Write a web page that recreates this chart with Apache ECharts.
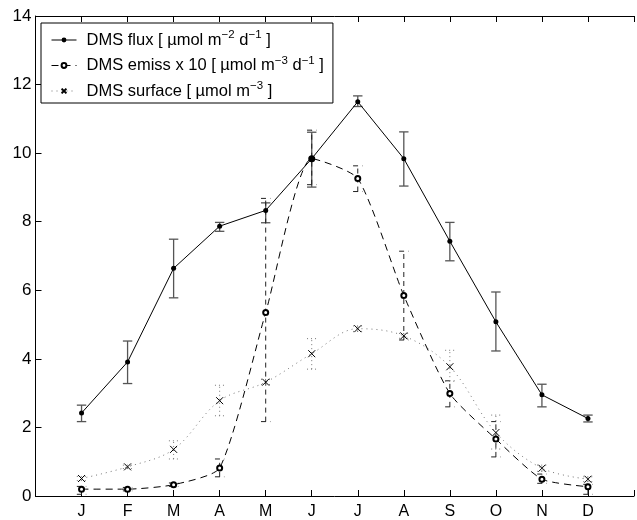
<!DOCTYPE html>
<html>
<head>
<meta charset="utf-8">
<script src="https://cdn.jsdelivr.net/npm/echarts@6/dist/echarts.min.js"></script>
<style>html,body{margin:0;padding:0;background:#fff}#c{width:637px;height:520px}</style>
</head>
<body>
<div id="c"></div>
<script>
const months = ['J','F','M','A','M','J','J','A','S','O','N','D'];
const yTicks = [0, 2, 4, 6, 8, 10, 12, 14];

const flux     = [2.42, 3.91, 6.64, 7.87, 8.33, 9.84, 11.50, 9.84, 7.43, 5.08, 2.95, 2.26];
const fluxLow  = [2.17, 3.28, 5.78, 7.72, 7.97, 9.01, 11.36, 9.04, 6.86, 4.23, 2.60, 2.16];
const fluxHigh = [2.65, 4.52, 7.49, 7.98, 8.55, 10.61, 11.67, 10.62, 7.98, 5.95, 3.26, 2.36];

const emiss     = [0.20, 0.20, 0.33, 0.82, 5.35, 9.84, 9.26, 5.85, 2.99, 1.66, 0.49, 0.27];
const emissLow  = [0.05, 0.15, 0.28, 0.56, 2.17, 9.08, 8.88, 4.55, 2.60, 1.14, 0.37, 0.05];
const emissHigh = [0.28, 0.25, 0.38, 1.08, 8.68, 10.67, 9.63, 7.14, 3.36, 2.17, 0.64, 0.34];

const surface     = [0.51, 0.85, 1.36, 2.78, 3.32, 4.15, 4.88, 4.67, 3.77, 1.85, 0.81, 0.49];
const surfaceLow  = [0.45, 0.80, 1.08, 2.34, 3.25, 3.70, 4.80, 4.60, 3.35, 1.37, 0.72, 0.42];
const surfaceHigh = [0.57, 0.90, 1.61, 3.23, 3.40, 4.59, 4.96, 4.74, 4.25, 2.36, 0.90, 0.56];

const names = ['DMS flux', 'DMS emiss', 'DMS surface'];

function pts(arr) { return arr.map((v, i) => [i + 1, v]); }
function bars(lo, hi) { return lo.map((v, i) => [i + 1, v, hi[i]]); }

function errRender(color, dash, width) {
  return function (params, api) {
    const x = api.value(0);
    const p1 = api.coord([x, api.value(1)]);
    const p2 = api.coord([x, api.value(2)]);
    const h = 4.7;
    const st = { stroke: color, lineWidth: width, lineDash: dash, fill: null };
    return {
      type: 'group',
      children: [
        { type: 'line', shape: { x1: p1[0], y1: p1[1], x2: p2[0], y2: p2[1] }, style: st },
        { type: 'line', shape: { x1: p1[0] - h, y1: p1[1], x2: p1[0] + h, y2: p1[1] }, style: st },
        { type: 'line', shape: { x1: p2[0] - h, y1: p2[1], x2: p2[0] + h, y2: p2[1] }, style: st }
      ]
    };
  };
}

const font = 'Liberation Sans, Arial, Helvetica, sans-serif';
const rich = {
  t: { fontSize: 16.5, fontFamily: font, color: '#000', lineHeight: 20 },
  s: { fontSize: 11.5, fontFamily: font, color: '#000', lineHeight: 20, padding: [0, 0, 10, 0] }
};
const legendText = {
  'DMS flux': '{t|DMS flux [ µmol m}{s|−2}{t| d}{s|−1}{t| ]}',
  'DMS emiss': '{t|DMS emiss x 10 [ µmol m}{s|−3}{t| d}{s|−1}{t| ]}',
  'DMS surface': '{t|DMS surface [ µmol m}{s|−3}{t| ]}'
};

const xBase = {
  type: 'value', min: 0, max: 13, interval: 1,
  axisLine: { show: true, lineStyle: { color: '#000', width: 1 } },
  axisTick: { show: true, inside: true, length: 6, lineStyle: { color: '#000' } },
  splitLine: { show: false }
};

const chart = echarts.init(document.getElementById('c'), null, { renderer: 'canvas' });
chart.setOption({
  animation: false,
  backgroundColor: '#fff',
  grid: { left: 35.5, right: -6.5, top: 16, bottom: 23, containLabel: false },
  xAxis: [
    Object.assign({}, xBase, {
      position: 'bottom',
      axisLabel: {
        show: true, margin: 8, fontSize: 16, fontFamily: font, color: '#000',
        formatter: v => (v >= 1 && v <= 12) ? months[v - 1] : ''
      }
    }),
    Object.assign({}, xBase, { position: 'top', axisLabel: { show: false } })
  ],
  yAxis: {
    type: 'value', min: 0, max: 14, interval: 2,
    axisLine: { show: true, lineStyle: { color: '#000', width: 1 } },
    axisTick: { show: true, inside: true, length: 6, lineStyle: { color: '#000' } },
    splitLine: { show: false },
    axisLabel: {
      margin: 4, fontSize: 17, fontFamily: font, color: '#000',
      formatter: v => yTicks.indexOf(v) >= 0 ? String(v) : ''
    }
  },
  legend: {
    data: names,
    orient: 'vertical',
    left: 41, top: 23,
    padding: [6, 9, 1, 10],
    itemGap: 3.5,
    itemWidth: 25, itemHeight: 6,
    borderColor: '#000', borderWidth: 1,
    backgroundColor: '#fff',
    lineStyle: { width: 1 },
    formatter: n => legendText[n],
    textStyle: { rich: rich, padding: [0, 0, 0, 5] }
  },
  series: [
    { type: 'custom', name: 'fluxErr', renderItem: errRender('#555', null, 1.3), data: bars(fluxLow, fluxHigh), z: 2 },
    { type: 'custom', name: 'emissErr', renderItem: errRender('#222', [5, 4], 1), data: bars(emissLow, emissHigh), z: 2 },
    { type: 'custom', name: 'surfErr', renderItem: errRender('#777', [1, 3], 1), data: bars(surfaceLow, surfaceHigh), z: 2 },
    {
      type: 'line', name: 'DMS flux', data: pts(flux),
      symbol: 'circle', symbolSize: 5,
      itemStyle: { color: '#000' },
      lineStyle: { color: '#000', width: 1 }, z: 5
    },
    {
      type: 'line', name: 'DMS emiss', data: pts(emiss), smooth: 0.2,
      symbol: 'emptyCircle', symbolSize: 5,
      itemStyle: { color: '#000', borderColor: '#000', borderWidth: 0.8 },
      lineStyle: { color: '#000', width: 1, type: [7, 5] }, z: 4
    },
    {
      type: 'line', name: 'DMS surface', data: pts(surface), smooth: 0.35,
      symbol: 'path://M0 0L10 10M10 0L0 10', symbolSize: 7,
      itemStyle: { color: 'rgba(0,0,0,0)', borderColor: '#000', borderWidth: 1 },
      lineStyle: { color: '#777', width: 1, type: [1, 4] }, z: 3
    }
  ]
});
</script>
</body>
</html>
